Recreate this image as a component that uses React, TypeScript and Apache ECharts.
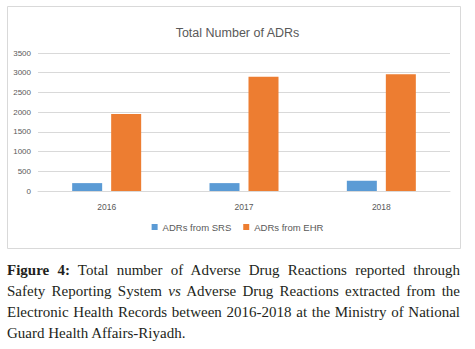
import React, { useEffect, useRef } from "react";
import * as echarts from "echarts";

const categories = ["2016", "2017", "2018"];
const srsValues = [200, 200, 260];
const ehrValues = [1950, 2900, 2960];
const seriesNames = ["ADRs from SRS", "ADRs from EHR"];
const chartTitle = "Total Number of ADRs";

export default function App() {
  const ref = useRef<HTMLDivElement>(null);
  useEffect(() => {
    document.body.style.margin = "0";
    const chart = echarts.init(ref.current!, null, { renderer: "svg" });
    chart.setOption({
      animation: false,
      backgroundColor: "#ffffff",
      title: {
        text: chartTitle,
        left: "center",
        top: 21,
        textStyle: { fontFamily: "Liberation Sans", fontSize: 12.5, fontWeight: "normal", color: "#595959" },
      },
      graphic: [
        {
          type: "rect",
          shape: { x: 7.5, y: 6.5, width: 453, height: 242 },
          style: { fill: "none", stroke: "#d9d9d9", lineWidth: 1 },
          silent: true,
        },
      ],
      legend: {
        data: seriesNames,
        bottom: 255 - 237,
        left: "center",
        itemWidth: 6,
        itemHeight: 6,
        itemGap: 12,
        icon: "rect",
        textStyle: { fontFamily: "Liberation Sans", fontSize: 9.5, color: "#595959" },
      },
      grid: { left: 38, right: 25, top: 53, bottom: 64 },
      xAxis: {
        type: "category",
        data: categories,
        axisLine: { show: true, lineStyle: { color: "#d9d9d9" } },
        axisTick: { show: false },
        axisLabel: { margin: 11, fontFamily: "Liberation Sans", fontSize: 8.5, color: "#595959" },
      },
      yAxis: {
        type: "value",
        min: 0,
        max: 3500,
        interval: 500,
        axisLine: { show: false },
        axisTick: { show: false },
        splitLine: { lineStyle: { color: "#d9d9d9" } },
        axisLabel: {
          margin: 7,
          fontFamily: "Liberation Sans",
          fontSize: 8,
          color: "#595959",
          formatter: (v: number) => String(v),
        },
      },
      series: [
        { name: seriesNames[0], type: "bar", data: srsValues, barWidth: 30, barGap: "30%", itemStyle: { color: "#5b9bd5" } },
        { name: seriesNames[1], type: "bar", data: ehrValues, barWidth: 30, barGap: "30%", itemStyle: { color: "#ed7d31" } },
      ],
    });
    return () => chart.dispose();
  }, []);

  const lineStyle: React.CSSProperties = { textAlign: "justify", textAlignLast: "justify" as any, whiteSpace: "nowrap" };
  return (
    <div style={{ position: "relative", width: 475, height: 349, background: "#fff" }}>
      <div ref={ref} style={{ position: "absolute", left: 0, top: 0, width: 475, height: 255 }} />
      <div
        style={{
          position: "absolute",
          left: 7,
          top: 260,
          width: 453,
          fontFamily: "'Liberation Serif', serif",
          fontSize: 15,
          lineHeight: "21px",
          color: "#231f20",
        }}
      >
        <div style={lineStyle}>
          <b>Figure 4:</b> Total number of Adverse Drug Reactions reported through
        </div>
        <div style={lineStyle}>
          Safety Reporting System <i>vs</i> Adverse Drug Reactions extracted from the
        </div>
        <div style={lineStyle}>
          Electronic Health Records between 2016-2018 at the Ministry of National
        </div>
        <div style={{ textAlign: "left" }}>Guard Health Affairs-Riyadh.</div>
      </div>
    </div>
  );
}
